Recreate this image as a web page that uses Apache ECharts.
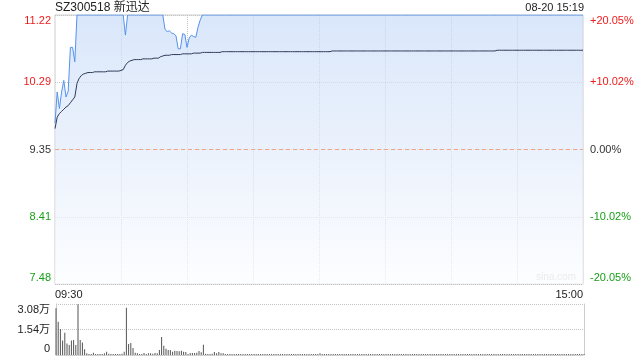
<!DOCTYPE html>
<html>
<head>
<meta charset="utf-8">
<script src="https://cdn.jsdelivr.net/npm/echarts@6/dist/echarts.min.js"></script>
<style>
html,body{margin:0;padding:0;background:#fff;}
#c{width:640px;height:360px;}
</style>
</head>
<body>
<div id="c"></div>
<script>
// ---- data ----
const titleText = 'SZ300518 新迅达';
const timeText = '08-20 15:19';
const priceTickLabels = ['7.48', '8.41', '9.35', '10.29', '11.22'];
const pctTickLabels = ['-20.05%', '-10.02%', '0.00%', '+10.02%', '+20.05%'];
const volTickLabels = ['0', '1.54万', '3.08万'];
const xTickLabels = ['09:30', '15:00'];
const prevClose = 9.35;

const price = [
  9.72,10.15,9.92,10.15,10.31,10.08,10.16,10.77,10.77,10.57,
  11.22,11.22,11.22,11.22,11.22,11.22,11.22,11.22,11.22,11.22,11.22,
  11.22,11.22,11.22,11.22,11.22,11.22,11.22,11.22,11.22,11.22,11.22,
  10.94,
  11.22,11.22,11.22,11.22,11.22,11.22,11.22,11.22,11.22,11.22,11.22,11.22,11.22,11.22,11.22,11.22,11.22,
  11.02,10.99,11.00,10.97,10.96,10.93,10.75,10.75,10.96,10.95,10.77,10.90,10.94,10.92,10.91,11.05,11.15,
  11.22,11.22,11.22,11.22,11.22,11.22,11.22,11.22,11.22,11.22,
  11.22,11.22,11.22,11.22,11.22,11.22,11.22,11.22,11.22,11.22,
  11.22,11.22,11.22,11.22,11.22,11.22,11.22,11.22,11.22,11.22,
  11.22,11.22,11.22,11.22,11.22,11.22,11.22,11.22,11.22,11.22,
  11.22,11.22,11.22,11.22,11.22,11.22,11.22,11.22,11.22,11.22,
  11.22,11.22,11.22,11.22,11.22,11.22,11.22,11.22,11.22,11.22,
  11.22,11.22,11.22,11.22,11.22,11.22,11.22,11.22,11.22,11.22,
  11.22,11.22,11.22,11.22,11.22,11.22,11.22,11.22,11.22,11.22,
  11.22,11.22,11.22,11.22,11.22,11.22,11.22,11.22,11.22,11.22,
  11.22,11.22,11.22,11.22,11.22,11.22,11.22,11.22,11.22,11.22,
  11.22,11.22,11.22,11.22,11.22,11.22,11.22,11.22,11.22,11.22,
  11.22,11.22,11.22,11.22,11.22,11.22,11.22,11.22,11.22,11.22,
  11.22,11.22,11.22,11.22,11.22,11.22,11.22,11.22,11.22,11.22,
  11.22,11.22,11.22,11.22,11.22,11.22,11.22,11.22,11.22,11.22,
  11.22,11.22,11.22,11.22,11.22,11.22,11.22,11.22,11.22,11.22,
  11.22,11.22,11.22,11.22,11.22,11.22,11.22,11.22,11.22,11.22,
  11.22,11.22,11.22,11.22,11.22,11.22,11.22,11.22,11.22,11.22,
  11.22,11.22,11.22,11.22
];

const avgPrice = [
  9.64,9.80,9.85,9.88,9.91,9.94,9.96,10.00,10.04,10.08,10.27,10.34,10.38,10.40,10.41,10.42,
  10.42,10.42,10.43,10.43,10.43,10.43,10.43,10.43,10.44,10.44,10.44,10.44,10.44,10.44,10.45,
  10.46,10.52,10.56,10.58,10.59,
  10.60,10.60,10.60,10.60,10.61,10.61,10.61,10.61,10.61,10.62,10.62,10.62,
  10.64,10.65,10.66,
  10.66,10.66,10.67,10.67,10.67,10.67,10.67,10.68,10.68,10.68,10.68,10.68,10.69,10.69,10.69,10.69,
  10.70,10.70,10.70,10.70,10.70,10.70,10.70,10.70,10.70,
  10.71,10.71,10.71,10.71,10.71,10.71,10.71,10.71,10.71,10.71,
  10.71,10.71,10.71,10.71,10.71,10.71,10.71,10.71,10.71,10.71,
  10.71,10.71,10.71,10.71,10.71,10.71,10.71,10.71,10.71,10.71,
  10.71,10.71,10.71,10.71,10.71,10.71,10.71,10.71,10.71,10.71,
  10.71,10.71,10.71,10.71,10.71,10.71,10.71,10.71,10.71,10.71,
  10.72,10.72,10.72,10.72,10.72,10.72,10.72,10.72,10.72,10.72,
  10.72,10.72,10.72,10.72,10.72,10.72,10.72,10.72,10.72,10.72,
  10.72,10.72,10.72,10.72,10.72,10.72,10.72,10.72,10.72,10.72,
  10.72,10.72,10.72,10.72,10.72,10.72,10.72,10.72,10.72,10.72,
  10.72,10.72,10.72,10.72,10.72,10.72,10.72,10.72,10.72,10.72,
  10.72,10.72,10.72,10.72,10.72,10.72,10.72,10.72,10.72,10.72,
  10.72,10.72,10.72,10.72,10.72,10.72,10.72,10.72,10.72,10.72,
  10.72,10.72,10.72,10.72,10.72,
  10.73,10.73,10.73,10.73,10.73,10.73,10.73,10.73,10.73,10.73,
  10.73,10.73,10.73,10.73,10.73,10.73,10.73,10.73,10.73,10.73,
  10.73,10.73,10.73,10.73,10.73,10.73,10.73,10.73,10.73,10.73,
  10.73,10.73,10.73,10.73,10.73,10.73,10.73,10.73,10.73,10.73
];

// volume in 万
const volume = [
  2.82,2.01,1.57,0.87,1.35,0.70,0.60,0.87,0.91,0.60,3.06,0.91,0.75,0.34,
  0.10,0.06,0.06,0.14,0.06,0.04,0.05,0.06,0.10,0.20,0.08,0.05,0.06,0.05,0.04,0.06,0.08,0.20,
  2.86,0.66,0.72,0.42,0.14,0.10,0.06,0.04,0.12,0.06,0.10,0.10,0.08,0.12,0.10,
  0.30,1.09,0.56,0.38,0.30,0.30,0.20,0.26,0.24,0.22,0.26,0.20,0.18,0.06,0.12,0.12,0.12,0.14,0.24,0.16,0.62,0.08,0.06,0.06,0.08,0.18,0.10,0.18,0.10,0.10,
  0.05,0.03,0.04,0.06,0.02,0.03,0.05,0.04,0.03,0.06,0.02,0.04,0.05,0.03,0.04,0.02,0.06,0.03,0.04,0.05,
  0.03,0.02,0.04,0.06,0.03,0.05,0.02,0.04,0.03,0.05,0.04,0.02,0.03,0.06,0.04,0.03,0.05,0.02,0.04,0.03,
  0.06,0.04,0.03,0.10,0.05,0.03,0.04,0.02,0.05,0.03,0.04,0.06,0.02,0.03,0.05,0.04,0.03,0.02,0.04,0.05,
  0.03,0.06,0.04,0.02,0.03,0.05,0.04,0.03,0.06,0.02,0.04,0.03,0.05,0.02,0.04,0.06,0.03,0.04,0.02,0.05,
  0.04,0.03,0.05,0.02,0.06,0.04,0.03,0.05,0.02,0.04,0.03,0.06,0.04,0.02,0.05,0.03,0.04,0.02,0.03,0.05,
  0.02,0.04,0.06,0.03,0.05,0.02,0.04,0.03,0.05,0.04,0.02,0.03,0.06,0.04,0.03,0.05,0.02,0.04,0.03,0.05,
  0.04,0.02,0.03,0.06,0.04,0.05,0.03,0.02,0.04,0.05,0.03,0.06,0.02,0.04,0.03,0.05,0.04,0.02,0.03,0.06,
  0.03,0.05,0.04,0.02,0.06,0.03,0.04,0.05,0.02,0.03,0.04,0.06,0.03,0.02,0.05,0.04,0.03,0.06,0.04,0.05,
  0.03,0.04,0.02,0.05
];

// minute categories: 09:30-11:30, 13:01-15:00
const times = [];
function hm(m){ const h = Math.floor(m/60), mm = m%60; return (h<10?'0':'')+h+':'+(mm<10?'0':'')+mm; }
for (let m = 9*60+30; m <= 11*60+30; m++) times.push(hm(m));
for (let m = 13*60+1; m <= 15*60; m++) times.push(hm(m));

// ---- chart ----
const FONT = '"Liberation Sans", Arial, "Noto Sans CJK SC", sans-serif';
const RED = '#f01a1a', GREEN = '#18a018', DARK = '#333333';
const priceCls = ['g','g','n','r','r'];
const pctCls = ['g','g','n','r','r'];
const rich = {
  r: {color: RED, fontSize: 11, lineHeight: 12, fontFamily: FONT},
  g: {color: GREEN, fontSize: 11, lineHeight: 12, fontFamily: FONT},
  n: {color: DARK, fontSize: 11, lineHeight: 12, fontFamily: FONT}
};
function edgeWrap(s, i, n){
  if (i === n-1) return '\n' + s;
  if (i === 0) return s + '\n';
  return s;
}
const dotted = {color: '#c4c4c4', type: [1, 1], width: 1};

const chart = echarts.init(document.getElementById('c'), null, {renderer: 'canvas'});
chart.setOption({
  animation: false,
  textStyle: {fontFamily: FONT},
  title: [
    {text: titleText, left: 55, top: 2, padding: 0, textStyle: {fontSize: 12, fontWeight: 'normal', color: '#222', fontFamily: FONT}},
    {text: timeText, right: 56, top: 2, padding: 0, textStyle: {fontSize: 11, fontWeight: 'normal', color: '#222', fontFamily: FONT}}
  ],
  grid: [
    {left: 55, right: 57, top: 15, height: 269, outerBoundsMode: 'none', containLabel: false, show: true, borderColor: '#cccccc', borderWidth: 1, backgroundColor: 'transparent'},
    {left: 56, right: 56, top: 304, height: 51, outerBoundsMode: 'none', containLabel: false, show: false}
  ],
  xAxis: [
    {
      type: 'category', gridIndex: 0, data: times, boundaryGap: false,
      axisLine: {show: false}, axisTick: {show: false},
      axisLabel: {
        show: true, fontSize: 11, color: '#222', margin: 5, fontFamily: FONT,
        interval: function(i){ return i === 0 || i === times.length - 1; },
        alignMinLabel: 'left', alignMaxLabel: 'right',
        formatter: function(v, i){ return i === 0 ? xTickLabels[0] : xTickLabels[1]; }
      },
      splitLine: {show: true, interval: function(i){ return i > 0 && i < times.length - 1 && i % 30 === 0; }, lineStyle: dotted}
    },
    {
      type: 'category', gridIndex: 1, data: times, boundaryGap: false,
      axisLine: {show: true, lineStyle: dotted}, axisTick: {show: false}, axisLabel: {show: false},
      splitLine: {show: false}
    }
  ],
  yAxis: [
    {
      type: 'value', gridIndex: 0, min: 7.48, max: 11.22, interval: 0.935, position: 'left',
      axisLine: {show: false}, axisTick: {show: false},
      axisLabel: {
        margin: 4, fontSize: 11, lineHeight: 12, color: DARK, rich: rich,
        formatter: function(v, i){ return edgeWrap('{' + priceCls[i] + '|' + priceTickLabels[i] + '}', i, priceTickLabels.length); }
      },
      splitLine: {show: true, lineStyle: dotted}
    },
    {
      type: 'value', gridIndex: 0, min: 7.48, max: 11.22, interval: 0.935, position: 'right',
      axisLine: {show: false}, axisTick: {show: false},
      axisLabel: {
        margin: 7, fontSize: 11, lineHeight: 12, color: DARK, rich: rich,
        formatter: function(v, i){ return edgeWrap('{' + pctCls[i] + '|' + pctTickLabels[i] + '}', i, pctTickLabels.length); }
      },
      splitLine: {show: false}
    },
    {
      type: 'value', gridIndex: 1, min: 0, max: 3.08, interval: 1.54, position: 'left',
      axisLine: {show: true, lineStyle: dotted}, axisTick: {show: false},
      axisLabel: {
        margin: 6, fontSize: 11, lineHeight: 12, color: '#222', fontFamily: FONT,
        formatter: function(v, i){ return edgeWrap(volTickLabels[i], i, volTickLabels.length); }
      },
      splitLine: {show: true, lineStyle: dotted}
    },
    {
      type: 'value', gridIndex: 1, min: 0, max: 3.08, interval: 1.54, position: 'right',
      axisLine: {show: true, lineStyle: {color: '#cccccc', width: 1}}, axisTick: {show: false},
      axisLabel: {show: false}, splitLine: {show: false}
    }
  ],
  graphic: [
    {type: 'text', right: 64, top: 272, style: {text: 'sina.com', fill: '#c8c8c8', font: '10px ' + FONT}}
  ],
  series: [
    {
      name: 'price', type: 'line', xAxisIndex: 0, yAxisIndex: 0, data: price,
      showSymbol: false, symbol: 'none', z: 3,
      lineStyle: {color: '#5592ec', width: 1},
      areaStyle: {
        origin: 'start',
        color: new echarts.graphic.LinearGradient(0, 0, 0, 1, [
          {offset: 0, color: '#c9dcf8'},
          {offset: 0.5, color: '#e2ebfa'},
          {offset: 1, color: '#fbfcff'}
        ])
      },
      markLine: {
        silent: true, symbol: ['none', 'none'], label: {show: false},
        lineStyle: {color: '#f0a488', type: [4, 3], width: 1},
        data: [{yAxis: prevClose}]
      }
    },
    {
      name: 'avg', type: 'line', xAxisIndex: 0, yAxisIndex: 0, data: avgPrice,
      showSymbol: false, symbol: 'none', z: 4,
      lineStyle: {color: '#2d3b56', width: 1}
    },
    {
      name: 'volume', type: 'bar', xAxisIndex: 1, yAxisIndex: 2, data: volume,
      barWidth: 1, barMinHeight: 1, itemStyle: {color: '#555555'}
    }
  ]
});
</script>
</body>
</html>
